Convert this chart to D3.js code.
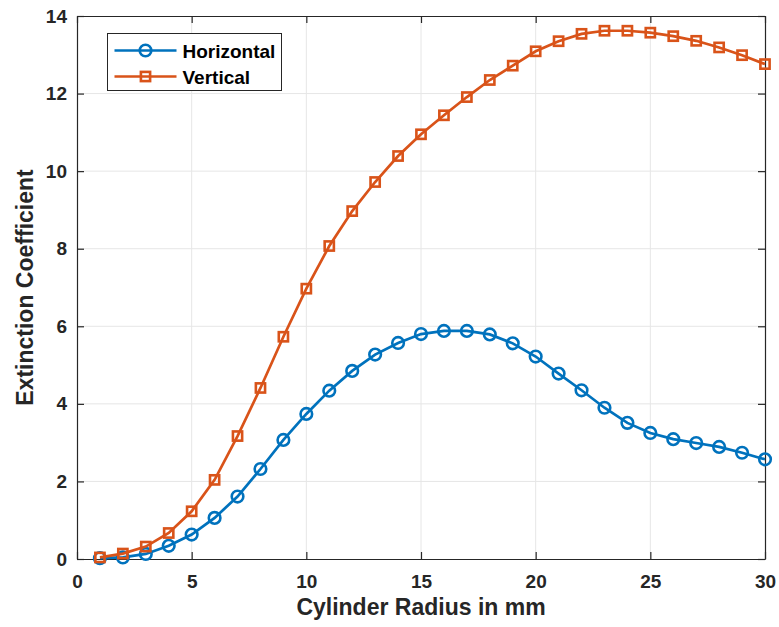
<!DOCTYPE html>
<html>
<head>
<meta charset="utf-8">
<script src="https://cdn.jsdelivr.net/npm/d3@7"></script>
<style>
  body { margin: 0; background: #fff; }
  text { font-family: "Liberation Sans", Arial, sans-serif; font-weight: bold; }
</style>
</head>
<body>
<svg id="chart" width="779" height="627"></svg>
<script>
// radius in mm
const radius = d3.range(1, 31);
const horizontal = [0.02, 0.04, 0.13, 0.34, 0.63, 1.06, 1.61, 2.32, 3.07, 3.74,
  4.34, 4.85, 5.27, 5.57, 5.80, 5.88, 5.88, 5.79, 5.56, 5.22,
  4.78, 4.35, 3.90, 3.51, 3.25, 3.09, 2.99, 2.89, 2.74, 2.57];
const vertical = [0.04, 0.14, 0.32, 0.67, 1.23, 2.04, 3.17, 4.41, 5.73, 6.97,
  8.07, 8.97, 9.72, 10.39, 10.95, 11.44, 11.91, 12.35, 12.72, 13.09,
  13.35, 13.54, 13.62, 13.62, 13.57, 13.48, 13.36, 13.19, 12.99, 12.76];
const xTicks = [0, 5, 10, 15, 20, 25, 30];
const yTicks = [0, 2, 4, 6, 8, 10, 12, 14];

const series = [
  { name: "Horizontal", values: horizontal, color: "#0072BD", marker: "circle" },
  { name: "Vertical", values: vertical, color: "#D95319", marker: "square" }
];

const svg = d3.select("#chart");
const plotLeft = 77, plotRight = 765, plotTop = 16, plotBottom = 559;

const x = d3.scaleLinear().domain([0, 30]).range([plotLeft, plotRight]);
const y = d3.scaleLinear().domain([0, 14]).range([plotBottom, plotTop]);

// grid
svg.append("g").selectAll("line").data(xTicks.slice(1, -1)).join("line")
  .attr("x1", d => x(d)).attr("x2", d => x(d))
  .attr("y1", plotTop).attr("y2", plotBottom)
  .attr("stroke", "#e6e6e6").attr("stroke-width", 1);
svg.append("g").selectAll("line").data(yTicks.slice(1, -1)).join("line")
  .attr("x1", plotLeft).attr("x2", plotRight)
  .attr("y1", d => y(d)).attr("y2", d => y(d))
  .attr("stroke", "#e6e6e6").attr("stroke-width", 1);

// axes, ticks inside
const xAxis = svg.append("g").attr("transform", `translate(0,${plotBottom})`)
  .call(d3.axisBottom(x).tickValues(xTicks).tickSizeInner(-7).tickSizeOuter(0).tickPadding(16));
const xAxisTop = svg.append("g").attr("transform", `translate(0,${plotTop})`)
  .call(d3.axisTop(x).tickValues(xTicks).tickSizeInner(-7).tickSizeOuter(0).tickFormat(""));
const yAxis = svg.append("g").attr("transform", `translate(${plotLeft},0)`)
  .call(d3.axisLeft(y).tickValues(yTicks).tickSizeInner(-7).tickSizeOuter(0).tickPadding(10));
const yAxisRight = svg.append("g").attr("transform", `translate(${plotRight},0)`)
  .call(d3.axisRight(y).tickValues(yTicks).tickSizeInner(-7).tickSizeOuter(0).tickFormat(""));

[xAxis, xAxisTop, yAxis, yAxisRight].forEach(g => {
  g.select(".domain").attr("stroke", "#262626").attr("stroke-width", 1.2);
  g.selectAll(".tick line").attr("stroke", "#262626").attr("stroke-width", 1.2);
  g.selectAll(".tick text").attr("fill", "#262626")
    .style("font-size", "19px").style("font-family", "'Liberation Sans', Arial, sans-serif")
    .style("font-weight", "bold");
});

// lines and markers
const line = d3.line().x((d, i) => x(radius[i])).y(d => y(d));
series.forEach(s => {
  svg.append("path").datum(s.values)
    .attr("fill", "none").attr("stroke", s.color).attr("stroke-width", 2.7)
    .attr("d", line);
  const g = svg.append("g");
  if (s.marker == "circle") {
    g.selectAll("circle").data(s.values).join("circle")
      .attr("cx", (d, i) => x(radius[i])).attr("cy", d => y(d)).attr("r", 5.8)
      .attr("fill", "none").attr("stroke", s.color).attr("stroke-width", 2.6);
  } else {
    g.selectAll("rect").data(s.values).join("rect")
      .attr("x", (d, i) => x(radius[i]) - 4.6).attr("y", d => y(d) - 4.6)
      .attr("width", 9.2).attr("height", 9.2)
      .attr("fill", "none").attr("stroke", s.color).attr("stroke-width", 2.6);
  }
});

// legend
const legend = svg.append("g").attr("transform", "translate(107.5,33.5)");
legend.append("rect").attr("width", 174).attr("height", 57)
  .attr("fill", "#fff").attr("stroke", "#262626").attr("stroke-width", 1);
series.forEach((s, i) => {
  const ly = 17 + i * 26;
  legend.append("line").attr("x1", 7).attr("x2", 69).attr("y1", ly).attr("y2", ly)
    .attr("stroke", s.color).attr("stroke-width", 2.7);
  if (s.marker == "circle") {
    legend.append("circle").attr("cx", 38).attr("cy", ly).attr("r", 5.8)
      .attr("fill", "none").attr("stroke", s.color).attr("stroke-width", 2.6);
  } else {
    legend.append("rect").attr("x", 33.4).attr("y", ly - 4.6).attr("width", 9.2).attr("height", 9.2)
      .attr("fill", "none").attr("stroke", s.color).attr("stroke-width", 2.6);
  }
  legend.append("text").attr("x", 75).attr("y", ly + 7)
    .style("font-size", "19px").attr("fill", "#000").text(s.name);
});

// axis labels
svg.append("text").attr("x", (plotLeft + plotRight) / 2).attr("y", 615)
  .attr("text-anchor", "middle").style("font-size", "23px").attr("fill", "#262626")
  .text("Cylinder Radius in mm");
svg.append("text").attr("transform", `translate(33,${(plotTop + plotBottom) / 2}) rotate(-90)`)
  .attr("text-anchor", "middle").style("font-size", "23px").attr("fill", "#262626")
  .text("Extinction Coefficient");
</script>
</body>
</html>
